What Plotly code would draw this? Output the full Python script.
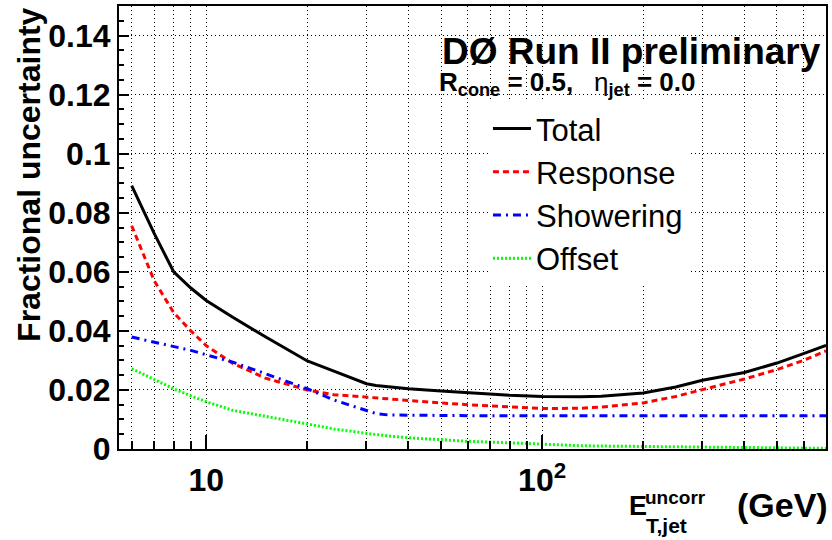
import plotly.graph_objects as go

# ---------------- data ----------------
et = [6, 7, 8, 9, 10, 12, 15, 20, 24, 30, 32, 35, 40, 50, 60, 80, 100, 130, 150, 200, 250, 300, 400, 500, 600, 700]
total = [0.0892, 0.0730, 0.0600, 0.0545, 0.0503, 0.0446, 0.0380, 0.0298, 0.0264, 0.0221, 0.0215, 0.0210, 0.0204, 0.0196, 0.0190,
         0.0182, 0.0178, 0.0177, 0.0179, 0.0190, 0.0210, 0.0233, 0.0259, 0.0291, 0.0323, 0.0351]
response = [0.0756, 0.0570, 0.0462, 0.0400, 0.0350, 0.0290, 0.0240, 0.0200, 0.0184, 0.0175, 0.0173, 0.0170, 0.0165, 0.0156, 0.0150,
            0.0142, 0.0137, 0.0138, 0.0142, 0.0156, 0.0178, 0.0201, 0.0237, 0.0269, 0.0300, 0.0332]
showering = [0.0379, 0.0362, 0.0345, 0.0334, 0.0319, 0.0294, 0.0255, 0.0204, 0.0166, 0.0131, 0.0120, 0.0115, 0.0114, 0.0113, 0.0113,
             0.0113, 0.0113, 0.0113, 0.0113, 0.0113, 0.0113, 0.0113, 0.0113, 0.0113, 0.0113, 0.0113]
offset = [0.0272, 0.0235, 0.0204, 0.0180, 0.0160, 0.0131, 0.0111, 0.0086, 0.0068, 0.0053, 0.0049, 0.0044, 0.0038, 0.0032, 0.0026,
          0.0021, 0.0016, 0.0011, 0.0010, 0.0008, 0.0007, 0.0006, 0.0005, 0.0004, 0.0003, 0.0002]

series_names = ["Total", "Response", "Showering", "Offset"]
x_major_ticks = [10, 100]
x_major_labels = ["10", "10<sup>2</sup>"]
x_minor_ticks = [6, 7, 8, 9, 20, 30, 40, 50, 60, 70, 80, 90, 200, 300, 400, 500, 600, 700]
y_ticks = [0, 0.02, 0.04, 0.06, 0.08, 0.1, 0.12, 0.14]
y_labels = ["0", "0.02", "0.04", "0.06", "0.08", "0.1", "0.12", "0.14"]

FONT = "Liberation Sans, Arial, sans-serif"

# plot area in pixels
L, R, T, B = 119, 828, 5, 449


def px(xp):
    return (xp - L) / (R - L)


def py(yp):
    return (B - yp) / (B - T)


fig = go.Figure()
styles = [
    dict(color="#000000", width=3, dash="solid"),
    dict(color="#ff0000", width=3, dash="6px,4px"),
    dict(color="#0000ff", width=3, dash="8px,5px,2px,5px"),
    dict(color="#00ff00", width=3, dash="2px,2px"),
]
for name, vals, st in zip(series_names, [total, response, showering, offset], styles):
    fig.add_trace(go.Scatter(x=et, y=vals, mode="lines", name=name, line=st))

fig.update_layout(
    width=832, height=540, autosize=False,
    margin=dict(l=L, r=832 - R, t=T, b=540 - B),
    paper_bgcolor="white", plot_bgcolor="white",
    font=dict(family=FONT, color="black"),
    showlegend=True,
    legend=dict(
        x=px(489), y=py(101), xanchor="left", yanchor="top",
        bgcolor="white", borderwidth=0,
        font=dict(family=FONT, size=31, color="black"),
        itemwidth=38, tracegroupgap=0,
    ),
)

fig.update_xaxes(
    type="log", range=[0.7404, 2.8451],
    tickmode="array", tickvals=x_major_ticks, ticktext=x_major_labels,
    ticks="inside", ticklen=14, tickwidth=2, tickcolor="black",
    tickfont=dict(family=FONT, size=32, weight="bold"),
    ticklabelstandoff=2,
    showgrid=True, gridcolor="black", gridwidth=1, griddash="1px,3px",
    minor=dict(tickmode="array", tickvals=x_minor_ticks, ticks="inside", ticklen=8,
               tickwidth=2, tickcolor="black", showgrid=True, gridcolor="black",
               gridwidth=1, griddash="1px,3px"),
    showline=True, linecolor="black", linewidth=2, mirror=True,
    zeroline=False,
)
fig.update_yaxes(
    range=[0, 0.15],
    tickmode="array", tickvals=y_ticks, ticktext=y_labels,
    ticks="inside", ticklen=10, tickwidth=1.5, tickcolor="black",
    tickfont=dict(family=FONT, size=32, weight="bold"),
    showgrid=True, gridcolor="black", gridwidth=1, griddash="1px,3px",
    minor=dict(dtick=0.005, ticks="inside", ticklen=5, tickwidth=1.5, tickcolor="black", showgrid=False),
    showline=True, linecolor="black", linewidth=2, mirror=True,
    zeroline=False,
)

ann = []
# y-axis title
ann.append(dict(text="<b>Fractional uncertainty</b>", x=px(28), y=py(174), xref="paper", yref="paper",
                xanchor="center", yanchor="middle", textangle=-90, showarrow=False,
                font=dict(family=FONT, size=32, color="black")))
# experiment label
ann.append(dict(text="<b>DØ Run II preliminary</b>", x=px(825), y=py(51), xref="paper", yref="paper",
                xanchor="right", yanchor="middle", showarrow=False,
                font=dict(family=FONT, size=37, color="black")))
ann.append(dict(text="<b>R<sub>cone</sub> = 0.5,</b>", x=px(438), y=py(83), xref="paper", yref="paper",
                xanchor="left", yanchor="middle", showarrow=False,
                font=dict(family=FONT, size=26, color="black")))
ann.append(dict(text="η<sub><b>jet</b></sub><b> = 0.0</b>", x=px(593), y=py(83), xref="paper", yref="paper",
                xanchor="left", yanchor="middle", showarrow=False,
                font=dict(family=FONT, size=26, color="black")))
# x-axis title pieces
ann.append(dict(text="<b>E</b>", x=px(628), y=py(506), xref="paper", yref="paper",
                xanchor="left", yanchor="middle", showarrow=False,
                font=dict(family=FONT, size=27, color="black")))
ann.append(dict(text="<b>uncorr</b>", x=px(644), y=py(498), xref="paper", yref="paper",
                xanchor="left", yanchor="middle", showarrow=False,
                font=dict(family=FONT, size=19, color="black")))
ann.append(dict(text="<b>T,jet</b>", x=px(645), y=py(526), xref="paper", yref="paper",
                xanchor="left", yanchor="middle", showarrow=False,
                font=dict(family=FONT, size=21, color="black")))
ann.append(dict(text="<b>(GeV)</b>", x=px(737), y=py(505), xref="paper", yref="paper",
                xanchor="left", yanchor="middle", showarrow=False,
                font=dict(family=FONT, size=34, color="black")))
fig.update_layout(annotations=ann)

fig.write_html("out.html", config={"displayModeBar": False},
               post_script="document.body.style.margin='0';")
